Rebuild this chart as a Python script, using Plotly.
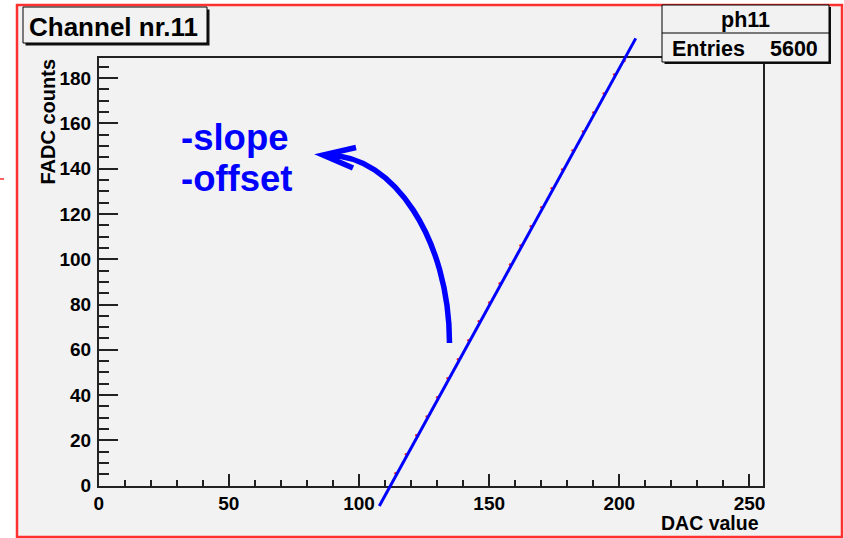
import plotly.graph_objects as go

W, H = 844, 538

# ---------------- data ----------------
hist_x = [114, 118, 122, 126, 130, 134, 138, 142, 146, 150, 154, 158,
          162, 166, 170, 174, 178, 182, 186, 190, 194, 198, 202]
hist_y = [5.5, 13.9, 22.3, 30.6, 39.0, 47.4, 55.8, 64.2, 72.6, 80.9, 89.3, 97.7,
          106.1, 114.5, 122.9, 131.3, 139.6, 148.0, 156.4, 164.8, 173.2, 181.5, 187.5]
fit_x = [107.8, 206.3]
fit_y = [-9.0, 197.5]

x_ticks = [0, 50, 100, 150, 200, 250]
y_ticks = [0, 20, 40, 60, 80, 100, 120, 140, 160, 180]
x_range = [0, 255]
y_range = [0, 188.7]

title_text = "Channel nr.11"
stats_name = "ph11"
stats_label = "Entries"
stats_value = "5600"
x_title = "DAC value"
y_title = "FADC counts"
note_lines = ["-slope", "-offset"]

# ---------------- layout geometry (pixels) ----------------
PX_L, PX_R = 98.7, 762.5
PY_T, PY_B = 58.3, 485.7


def px(x):
    return x / W


def py(y):
    return 1 - y / H


FONT = "Liberation Sans"
BLUE = "#0000ff"
BG = "#f2f2f2"

# secondary full-figure axes mapped identically (so fit line is not clipped)
sx = (PX_R - PX_L) / (x_range[1] - x_range[0])
sy = (PY_B - PY_T) / (y_range[1] - y_range[0])
x2_range = [x_range[0] - PX_L / sx, x_range[1] + (W - PX_R) / sx]
y2_range = [y_range[0] - (H - PY_B) / sy, y_range[1] + PY_T / sy]

fig = go.Figure()
fig.add_trace(go.Scatter(x=hist_x, y=hist_y, mode="markers",
                         marker=dict(color="#ff2020", size=2.5),
                         xaxis="x", yaxis="y", hoverinfo="skip"))
fig.add_trace(go.Scatter(x=fit_x, y=fit_y, mode="lines",
                         line=dict(color=BLUE, width=3),
                         xaxis="x2", yaxis="y2", hoverinfo="skip"))

tickfont = dict(family=FONT, size=19, color="black", weight="bold")
axcol = "#222222"

fig.update_layout(
    template="none",
    width=W, height=H, autosize=False,
    margin=dict(l=0, r=0, t=0, b=0, pad=0, autoexpand=False),
    paper_bgcolor="white", plot_bgcolor="rgba(0,0,0,0)",
    showlegend=False,
    xaxis=dict(domain=[px(PX_L), px(PX_R)], range=x_range, anchor="y",
               automargin=False,
               tickvals=x_ticks, ticks="inside", ticklen=12, tickwidth=1.5,
               tickcolor=axcol, showgrid=False, zeroline=False,
               showline=True, linecolor=axcol, linewidth=1.5, mirror=True,
               tickfont=tickfont, ticklabelstandoff=0,
               minor=dict(dtick=10, ticks="inside", ticklen=6, tickwidth=1.5,
                          tickcolor=axcol, showgrid=False)),
    yaxis=dict(domain=[py(PY_B), py(PY_T)], range=y_range, anchor="x",
               automargin=False,
               tickvals=y_ticks, ticks="inside", ticklen=20, tickwidth=1.5,
               tickcolor=axcol, showgrid=False, zeroline=False,
               showline=True, linecolor=axcol, linewidth=1.5, mirror=True,
               tickfont=tickfont, ticklabelstandoff=2,
               minor=dict(dtick=5, ticks="inside", ticklen=10.5, tickwidth=1.5,
                          tickcolor=axcol, showgrid=False)),
    xaxis2=dict(domain=[0, 1], range=x2_range, anchor="y2", visible=False,
                automargin=False, fixedrange=True),
    yaxis2=dict(domain=[0, 1], range=y2_range, anchor="x2", visible=False,
                automargin=False, fixedrange=True),
)

shapes = []
# canvas frame with red border
shapes.append(dict(type="rect", xref="paper", yref="paper",
                   x0=px(17), x1=px(842), y0=py(537), y1=py(5),
                   fillcolor=BG, line=dict(color="#ff3030", width=2.5),
                   layer="below"))
shapes.append(dict(type="line", xref="paper", yref="paper",
                   x0=px(0), x1=px(4), y0=py(179), y1=py(179),
                   line=dict(color="#ff3030", width=1.5), layer="below"))
# title box with shadow
shapes.append(dict(type="rect", xref="paper", yref="paper",
                   x0=px(25.5), x1=px(209.5), y0=py(45.5), y1=py(9.5),
                   fillcolor="#111111", line=dict(width=0)))
shapes.append(dict(type="rect", xref="paper", yref="paper",
                   x0=px(23), x1=px(207), y0=py(43), y1=py(7),
                   fillcolor=BG, line=dict(color="black", width=1)))
# stats box with shadow
shapes.append(dict(type="rect", xref="paper", yref="paper",
                   x0=px(664.5), x1=px(831), y0=py(64), y1=py(7),
                   fillcolor="#111111", line=dict(width=0)))
shapes.append(dict(type="rect", xref="paper", yref="paper",
                   x0=px(662), x1=px(829), y0=py(62), y1=py(5),
                   fillcolor=BG, line=dict(color="black", width=1)))
shapes.append(dict(type="line", xref="paper", yref="paper",
                   x0=px(662), x1=px(829), y0=py(33), y1=py(33),
                   line=dict(color="black", width=1)))

# curved arrow (quarter ellipse approximated by cubic bezier)
k = 0.5523
p0 = (449.5, 343.0)
p3 = (323.0, 155.0)
rx, ry = p0[0] - p3[0], p0[1] - p3[1]
p1 = (p0[0], p0[1] - k * ry)
p2 = (p3[0] + k * rx, p3[1])
tip = (323.0, 155.0)


def pt(p):
    return f"{px(p[0]):.5f},{py(p[1]):.5f}"


path = f"M{pt(p0)} C{pt(p1)} {pt(p2)} {pt((p3[0] + 6, p3[1] + 0.5))}"
shapes.append(dict(type="path", xref="paper", yref="paper", path=path,
                   line=dict(color=BLUE, width=5.5)))
head = f"M{pt((356, 147.5))} L{pt(tip)} L{pt((353, 168))}"
shapes.append(dict(type="path", xref="paper", yref="paper", path=head,
                   line=dict(color=BLUE, width=5.5)))

fig.update_layout(shapes=shapes)

ann = []


def add_text(text, x, y, size, xanchor="center", yanchor="middle", color="black",
             angle=0):
    ann.append(dict(text=text, xref="paper", yref="paper", x=px(x), y=py(y),
                    xanchor=xanchor, yanchor=yanchor, showarrow=False,
                    textangle=angle,
                    font=dict(family=FONT, size=size, color=color, weight="bold")))


add_text(title_text, 113, 27, 26)
add_text(stats_name, 745.7, 20, 21.5)
add_text(stats_label, 670, 49, 21.5, xanchor="left")
add_text(stats_value, 820, 49, 21.5, xanchor="right")
add_text(x_title, 761, 523, 19.5, xanchor="right")
add_text(y_title, 47.5, 57, 20, yanchor="top", angle=-90)
add_text(note_lines[0], 235.5, 137, 36.5, color=BLUE)
add_text(note_lines[1], 236.5, 178, 36.5, color=BLUE)

fig.update_layout(annotations=ann)

fig.write_html(
    "out.html",
    config={"displayModeBar": False},
    post_script=("document.documentElement.style.margin='0';"
                 "document.body.style.margin='0';"
                 "document.body.style.overflow='hidden';"),
)
